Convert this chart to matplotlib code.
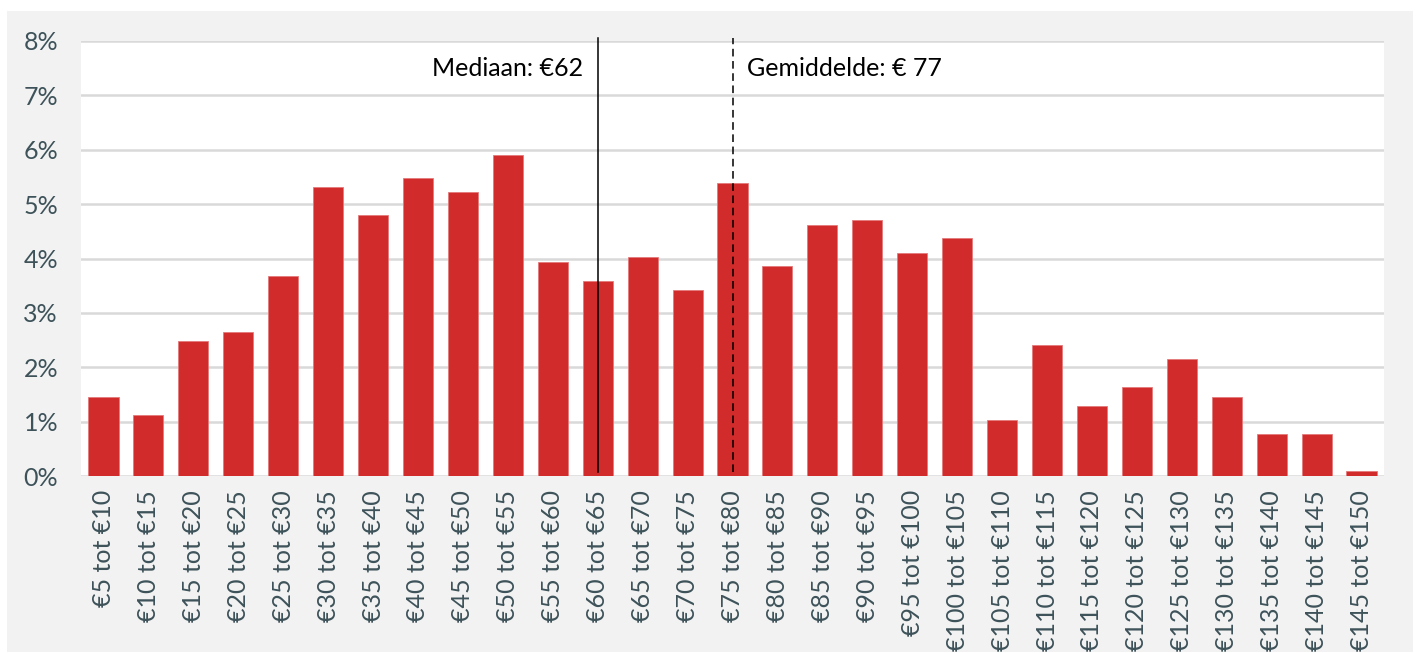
import matplotlib
matplotlib.use("Agg")
import matplotlib.pyplot as plt
from matplotlib.patches import Rectangle

categories = [f"€{a} tot €{a+5}" for a in range(5, 150, 5)]
values = [1.45, 1.12, 2.48, 2.65, 3.68, 5.31, 4.80, 5.48, 5.22, 5.90,
          3.93, 3.58, 4.03, 3.42, 5.39, 3.86, 4.61, 4.71, 4.10, 4.37,
          1.03, 2.41, 1.29, 1.64, 2.15, 1.45, 0.77, 0.77, 0.09]
yticks = [0, 1, 2, 3, 4, 5, 6, 7, 8]
median_label = "Mediaan: €62"
mean_label = "Gemiddelde: € 77"
median_cat = "€60 tot €65"
mean_cat = "€75 tot €80"

plt.rcParams['font.family'] = ['Lato', 'DejaVu Sans']

W, H = 1416, 653
fig = plt.figure(figsize=(W / 100, H / 100), dpi=100)
fig.patch.set_facecolor('white')
fig.add_artist(Rectangle((7 / W, 1 - 652 / H), (1413 - 7) / W, (652 - 11) / H,
                         transform=fig.transFigure, facecolor='#f2f2f2',
                         edgecolor='none', zorder=-10))

ax = fig.add_axes([81 / W, 1 - 476 / H, (1384 - 81) / W, (476 - 41) / H])
ax.set_facecolor('white')
x = list(range(len(categories)))
ax.bar(x, values, width=0.67, color='#d12b2b', edgecolor='#e47a7a', linewidth=0.6, zorder=3)
ax.set_xlim(-0.5, len(categories) - 0.5)
ax.set_ylim(0, 8)
ax.set_yticks(yticks)
ax.set_yticklabels([f"{v}%" for v in yticks])
ax.set_xticks(x)
ax.set_xticklabels(categories, rotation=90)
ax.grid(axis='y', color='#d9d9d9', linewidth=1.8, zorder=0)
for s in ax.spines.values():
    s.set_visible(False)
ax.tick_params(axis='both', length=0, labelsize=18, colors='#3d5259')
ax.tick_params(axis='y', pad=16.5)
ax.tick_params(axis='x', pad=10)

mi = categories.index(median_cat)
me = categories.index(mean_cat)
ax.plot([mi, mi], [0.07, 8.05], color='black', linewidth=1.1, zorder=4, clip_on=False)
ax.plot([me, me], [0.07, 8.05], color='black', linewidth=1.1, linestyle=(0, (5, 3)),
        zorder=4, clip_on=False)
ax.text(mi - 0.33, 7.5, median_label, ha='right', va='center', fontsize=18, color='black')
ax.text(me + 0.33, 7.5, mean_label, ha='left', va='center', fontsize=18, color='black')

fig.savefig('out.png', dpi=100)
